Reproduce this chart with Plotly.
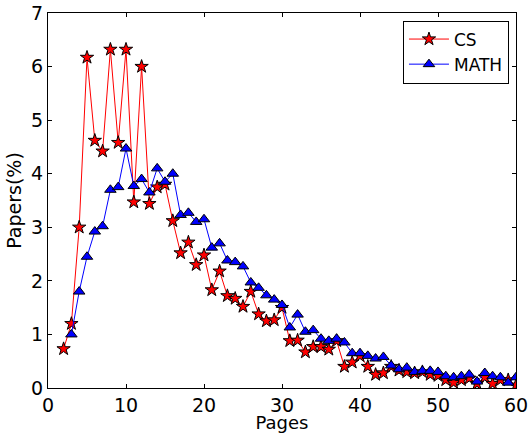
import plotly.graph_objects as go

cs_pages = list(range(2, 61))
cs_values = [0.73, 1.2, 3.0, 6.17, 4.62, 4.42, 6.32, 4.58, 6.32, 3.47,
             6.0, 3.44, 3.75, 3.8, 3.12, 2.52, 2.72, 2.3, 2.48, 1.83,
             2.18, 1.72, 1.67, 1.52, 1.8, 1.38, 1.25, 1.27, 1.5, 0.88,
             0.89, 0.67, 0.77, 0.77, 0.72, 0.88, 0.4, 0.48, 0.6, 0.4,
             0.25, 0.28, 0.4, 0.33, 0.3, 0.28, 0.3, 0.25, 0.23, 0.15,
             0.1, 0.15, 0.18, 0.08, 0.2, 0.08, 0.15, 0.15, 0.05]

math_pages = list(range(3, 61))
math_values = [1.0, 1.8, 2.45, 2.92, 3.02, 3.7, 3.75, 4.47, 3.77, 3.9,
               3.65, 4.1, 3.85, 4.0, 3.23, 3.27, 3.1, 3.15, 2.62, 2.7,
               2.38, 2.35, 2.27, 1.97, 1.87, 1.73, 1.65, 1.55, 1.13, 1.37,
               1.05, 1.08, 0.92, 0.88, 0.92, 0.85, 0.65, 0.65, 0.6, 0.55,
               0.58, 0.42, 0.35, 0.38, 0.3, 0.32, 0.32, 0.3, 0.22, 0.2,
               0.22, 0.25, 0.12, 0.28, 0.22, 0.2, 0.1, 0.2]

x_ticks = [0, 10, 20, 30, 40, 50, 60]
y_ticks = [0, 1, 2, 3, 4, 5, 6, 7]

fig = go.Figure()
fig.add_trace(go.Scatter(
    x=cs_pages, y=cs_values, name="CS", mode="lines+markers",
    line=dict(color="red", width=1),
    marker=dict(symbol="star", size=10, color="red",
                line=dict(color="black", width=1)),
))
fig.add_trace(go.Scatter(
    x=math_pages, y=math_values, name="MATH", mode="lines+markers",
    line=dict(color="blue", width=1),
    marker=dict(symbol="triangle-up", size=10, color="blue",
                line=dict(color="black", width=1)),
))

axis_common = dict(
    showgrid=False, zeroline=False, showline=True, linecolor="black",
    linewidth=1, mirror="ticks", ticks="inside", ticklen=4,
    tickcolor="black", tickwidth=1, automargin=False,
    tickfont=dict(family="DejaVu Sans", size=19, color="black"),
)

fig.update_layout(
    width=529, height=433,
    margin=dict(l=48, r=13, t=13, b=45),
    paper_bgcolor="white", plot_bgcolor="white",
    font=dict(family="DejaVu Sans", color="black"),
    xaxis=dict(range=[0, 60], tickvals=x_ticks, ticklabelstandoff=0,
               title=dict(text="Pages", font=dict(size=18), standoff=5),
               **axis_common),
    yaxis=dict(range=[0, 7], tickvals=y_ticks,
               title=dict(text="Papers(%)", font=dict(size=19), standoff=4),
               **axis_common),
    legend=dict(x=0.985, y=0.98, xanchor="right", yanchor="top",
                bgcolor="white", bordercolor="black", borderwidth=1,
                font=dict(size=17, family="DejaVu Sans"),
                itemwidth=40, tracegroupgap=2),
    showlegend=True,
)

fig.write_html("out.html", config={"displayModeBar": False},
               post_script="document.body.style.margin='0';document.body.style.overflow='hidden';")
